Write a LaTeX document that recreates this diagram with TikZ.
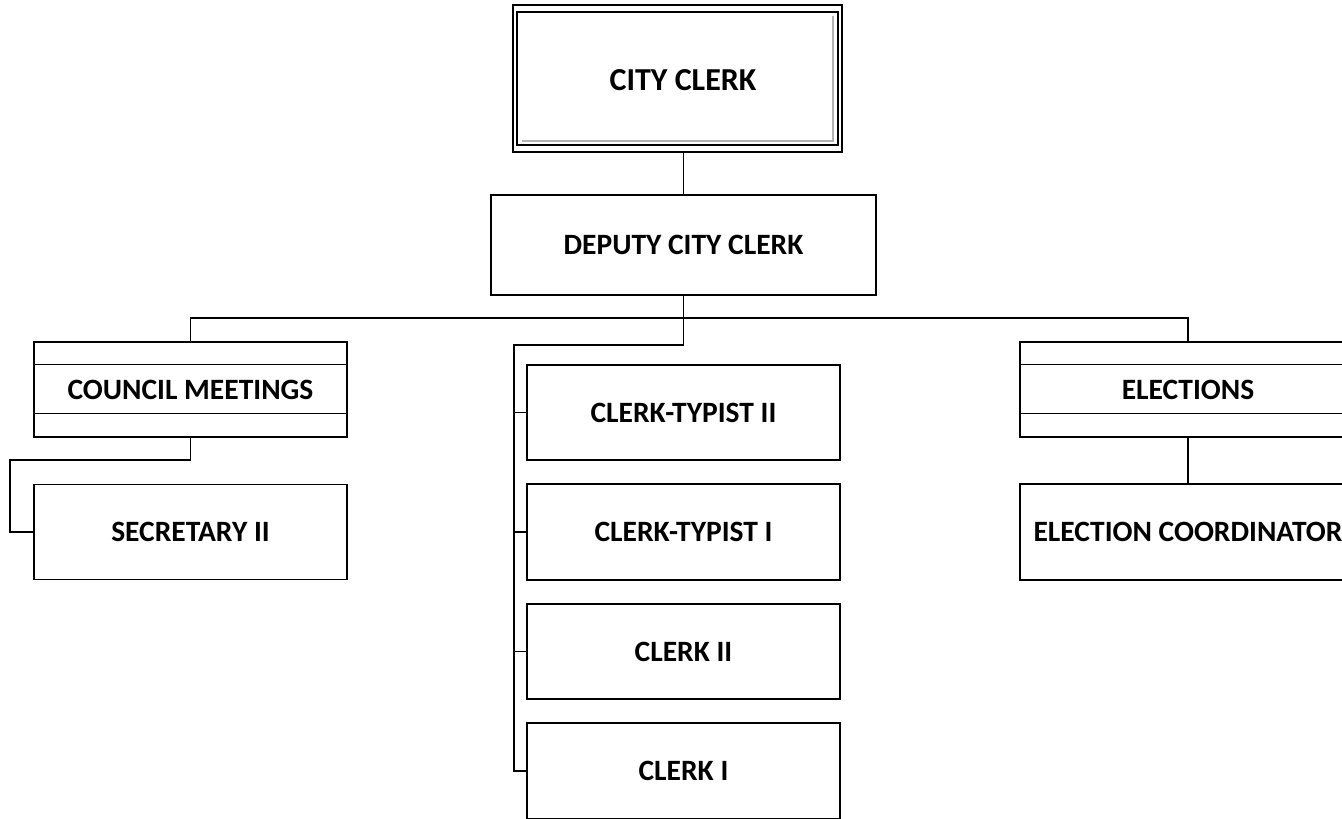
\documentclass[tikz,border=0pt]{standalone}
\usepackage{fontspec}
\setmainfont{Carlito}
\usetikzlibrary{positioning}
\tikzset{%
  post/.style={draw, line width=1.3pt, fill=white, align=center,
               font=\fontsize{29.5}{34}\selectfont\bfseries,
               minimum width=313, minimum height=95, inner sep=0pt},
  unit/.style={post},
  link/.style={line width=1.4pt},
}

\begin{document}
\begin{tikzpicture}[x=1pt,y=-1pt]
              \useasboundingbox (0,0) rectangle (1342,819);
              \clip (0,0) rectangle (1342,819);
              % top of the office
              \node[post,minimum width=329,minimum height=147,line width=1.1pt] (clerk) at (677.5,78.5) {};
              \draw[gray!60,line width=2.5pt] (522,141) -- (833,141) -- (833,16);
              \draw[line width=1.8pt] (517,12) rectangle (838,145);
              \node[font=\fontsize{32}{36}\selectfont\bfseries] (clerktext) at (683,80) {CITY CLERK};
              \node[post,minimum width=385,minimum height=100] (deputy) at (683.5,245) {DEPUTY CITY CLERK};
              % divisions
              \node[unit] (council) at (190.5,389.5) {COUNCIL MEETINGS};
              \node[unit,minimum width=336] (elections) at (1188,389.5) {ELECTIONS};
              \draw[link] (council.north west) ++(0,23) -- ++(313,0);
              \draw[link] (council.south west) ++(0,-24) -- ++(313,0);
              \draw[link] (elections.north west) ++(0,23) -- ++(336,0);
              \draw[link] (elections.south west) ++(0,-24) -- ++(336,0);
              \node[post] (secretary) at (190.5,532) {SECRETARY II};
              \node[post,minimum width=336,minimum height=96] (coord) at (1188,532) {ELECTION COORDINATOR};
              \node[post] (typist2) at (683.5,412.5) {CLERK-TYPIST II};
              \node[post,minimum height=96] (typist1) at (683.5,532) {CLERK-TYPIST I};
              \node[post] (clerk2) at (683.5,651.5) {CLERK II};
              \node[post,minimum height=96] (clerk1) at (683.5,771) {CLERK I};
              % connectors
              \coordinate (bus) at (683.5,318);
              \coordinate (spine) at (514,345);
              \coordinate (side) at (10,460);
              \draw[link] (deputy.north |- clerk.south) -- (deputy.north);
              \draw[link] (deputy.south) -- (bus);
              \draw[link] (council.north) -- (council.north |- bus) -- (elections.north |- bus) -- (elections.north);
              \draw[link] (council.south) -- (council.south |- side) -- (side) -- (side |- secretary.west) -- (secretary.west);
              \draw[link] (elections.south) -- (coord.north);
              \draw[link] (bus) -- (bus |- spine) -- (spine) -- (spine |- clerk1.west) -- (clerk1.west);
              \foreach \n in {typist2,typist1,clerk2}
                \draw[link] (spine |- \n.west) -- (\n.west);
\end{tikzpicture}
\end{document}
